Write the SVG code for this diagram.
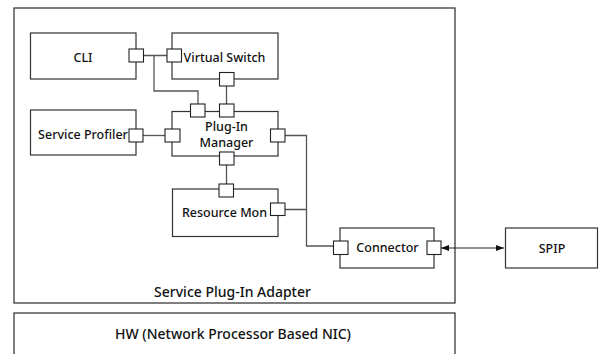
<svg xmlns="http://www.w3.org/2000/svg" width="600" height="354" viewBox="0 0 600 354">
  <style>
    .frame { fill: #fff; stroke: #3a3a3a; stroke-width: 1.3; }
    .box { fill: #fff; stroke: #333; stroke-width: 1.2; }
    .port { fill: #fff; stroke: #222; stroke-width: 1.1; }
    .wire { fill: none; stroke: #555; stroke-width: 1.3; }
    .link { fill: none; stroke: #222; stroke-width: 1.2; }
    text { font-family: "Noto Sans", "Open Sans", "Liberation Sans", sans-serif; font-size: 12.5px; font-weight: 500; fill: #111; text-anchor: middle; dominant-baseline: central; }
    .title { font-size: 14px; }
  </style>
  <defs>
    <marker id="arrow" viewBox="0 0 8 6" refX="8" refY="3" markerWidth="8" markerHeight="6" markerUnits="userSpaceOnUse" orient="auto-start-reverse">
      <path d="M0,0 L8,3 L0,6 Z" fill="#111"/>
    </marker>
  </defs>

  <rect width="600" height="354" fill="#fff"/>

  <!-- containers -->
  <g id="adapter">
    <rect class="frame" x="14" y="8" width="441" height="295"/>
    <text class="title" x="232.5" y="291">Service Plug-In Adapter</text>
  </g>
  <g id="hw">
    <rect class="frame" x="14" y="313" width="441" height="50"/>
    <text class="title" x="233" y="333">HW (Network Processor Based NIC)</text>
  </g>

  <!-- connectors -->
  <g id="connectors">
    <path class="wire" d="M144,55.5 H167 M154,55.5 V91 H198 V104"/>
    <path class="wire" d="M226.5,86 V104"/>
    <path class="wire" d="M143,135.5 H165"/>
    <path class="wire" d="M226.5,165 V184"/>
    <path class="wire" d="M285,135.5 H306.5 V246 H333 M285,209.5 H306.5"/>
    <path class="link" d="M441,248 H504" marker-start="url(#arrow)" marker-end="url(#arrow)"/>
  </g>

  <!-- components -->
  <g id="cli">
    <rect class="box" x="30.5" y="33" width="105.5" height="46"/>
    <rect class="port" x="129" y="49" width="14.5" height="13"/>
    <text x="83" y="57">CLI</text>
  </g>
  <g id="virtual-switch">
    <rect class="box" x="172" y="33" width="106" height="46"/>
    <rect class="port" x="167" y="49" width="14.5" height="13"/>
    <rect class="port" x="219.5" y="72.5" width="14.5" height="13.5"/>
    <text x="224.5" y="57">Virtual Switch</text>
  </g>
  <g id="service-profiler">
    <rect class="box" x="30.5" y="110" width="105.5" height="45"/>
    <rect class="port" x="129" y="129" width="14" height="13"/>
    <text x="83" y="134">Service Profiler</text>
  </g>
  <g id="plugin-manager">
    <rect class="box" x="172" y="111.5" width="106" height="44.5"/>
    <rect class="port" x="190.5" y="104" width="14.5" height="13"/>
    <rect class="port" x="219.5" y="104" width="14.5" height="13"/>
    <rect class="port" x="165" y="129" width="15" height="13"/>
    <rect class="port" x="270.5" y="129" width="14.5" height="13"/>
    <rect class="port" x="219.5" y="152" width="14.5" height="13"/>
    <text x="226.5" y="126">Plug-In</text>
    <text x="226.5" y="142">Manager</text>
  </g>
  <g id="resource-mon">
    <rect class="box" x="172.5" y="189" width="105.5" height="47.5"/>
    <rect class="port" x="219" y="184" width="14.5" height="13"/>
    <rect class="port" x="270.5" y="203" width="14.5" height="12.5"/>
    <text x="224.5" y="212.5">Resource Mon</text>
  </g>
  <g id="connector">
    <rect class="box" x="340" y="228" width="94" height="40"/>
    <rect class="port" x="333.5" y="241" width="14.5" height="13.5"/>
    <rect class="port" x="427" y="241" width="14" height="13.5"/>
    <text x="387.5" y="247.5">Connector</text>
  </g>
  <g id="spip">
    <rect class="box" x="505.5" y="228" width="92" height="40"/>
    <text x="552" y="248">SPIP</text>
  </g>
</svg>
